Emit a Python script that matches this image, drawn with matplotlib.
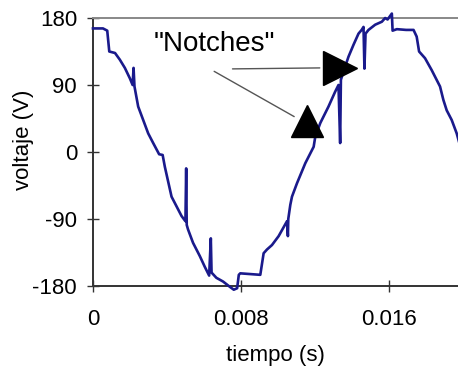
import matplotlib
matplotlib.use("Agg")
import matplotlib.pyplot as plt

# voltage waveform with notches (time in s, voltage in V)
tiempo = [0.0, 0.00054, 0.00077, 0.00088, 0.00119, 0.00145, 0.00172, 0.00199,
          0.00214, 0.00219, 0.00224, 0.00244, 0.00271, 0.00298, 0.00325, 0.00357,
          0.00376, 0.00388, 0.00406, 0.00424, 0.00451, 0.00478, 0.00499, 0.00503,
          0.00506, 0.00513, 0.00540, 0.00577, 0.00603, 0.00627, 0.00636, 0.00640,
          0.00666, 0.00702, 0.00738, 0.00760, 0.00778, 0.00787, 0.00795, 0.00903,
          0.00921, 0.00939, 0.00966, 0.01002, 0.01047, 0.01052, 0.01054, 0.01065,
          0.01074, 0.01101, 0.01146, 0.01191, 0.01200, 0.01227, 0.01271, 0.01307,
          0.01325, 0.01334, 0.01338, 0.01352, 0.01379, 0.01406, 0.01433, 0.01450,
          0.01460, 0.01465, 0.01471, 0.01487, 0.01523, 0.01559, 0.01577, 0.01590,
          0.01613, 0.01617, 0.01640, 0.01690, 0.01730, 0.01747, 0.01760, 0.01792,
          0.01828, 0.01873, 0.01891, 0.01909, 0.01936, 0.01963, 0.01985]
voltaje = [166, 166, 163, 135, 133, 124, 113, 99,
           90, 113, 88, 61, 43, 25, 12, -3,
           -4, -20, -40, -60, -73, -86, -93, -22,
           -98, -104, -122, -140, -154, -166, -116, -162,
           -169, -174, -181, -185, -183, -165, -163, -165,
           -136, -131, -125, -113, -93, -113, -90, -71,
           -60, -42, -15, 7, 21, 39, 61, 81,
           90, 12, 97, 108, 128, 144, 159, 164,
           168, 112, 159, 164, 171, 175, 180, 178,
           186, 163, 165, 164, 164, 155, 135, 126,
           110, 88, 70, 56, 43, 25, 5]

x_ticks = [0, 0.008, 0.016]
x_labels = ["0", "0.008", "0.016"]
y_ticks = [-180, -90, 0, 90, 180]

plt.rcParams['font.family'] = ['Liberation Sans', 'DejaVu Sans']
plt.rcParams['axes.unicode_minus'] = False

fig = plt.figure(figsize=(4.58, 3.66), dpi=100)
ax = fig.add_axes([0.203, 0.2186, 0.797, 0.7322])

ax.plot(tiempo, voltaje, color='#1a1a8c', lw=1.9, clip_on=False, zorder=3)

ax.set_xlim(0, 0.0197)
ax.set_ylim(-180, 180)
ax.set_xticks(x_ticks)
ax.set_xticklabels(x_labels)
ax.set_yticks(y_ticks)
ax.tick_params(direction='inout', length=9, width=1, color='#333333',
               labelsize=16)
ax.tick_params(axis='x', pad=12)
ax.tick_params(axis='y', pad=7)

for side in ['left', 'bottom']:
    ax.spines[side].set_color('#333333')
    ax.spines[side].set_linewidth(1.4)
ax.spines['top'].set_color('#888888')
ax.spines['top'].set_linewidth(1.4)
ax.spines['right'].set_visible(False)

ax.set_xlabel('tiempo (s)', fontsize=16)
ax.set_ylabel('voltaje (V)', fontsize=16)
ax.xaxis.set_label_coords(0.50, -0.22)
ax.yaxis.set_label_coords(-0.162, 0.545)

# "Notches" annotation
ax.text(0.00657, 145, '"Notches"', fontsize=20, ha='center', va='center')
ax.annotate('', xy=(0.01239, 113), xytext=(0.00738, 111.6),
            arrowprops=dict(arrowstyle='-', color='#555555', lw=1))
ax.annotate('', xy=(0.01099, 45.7), xytext=(0.00641, 110.2),
            arrowprops=dict(arrowstyle='-', color='#555555', lw=1))
ax.plot([0.01333], [112.9], marker='>', ms=25, color='black', zorder=4)
ax.plot([0.01153], [41.7], marker='^', ms=23, color='black', zorder=4)

fig.savefig('out.png', dpi=100)
